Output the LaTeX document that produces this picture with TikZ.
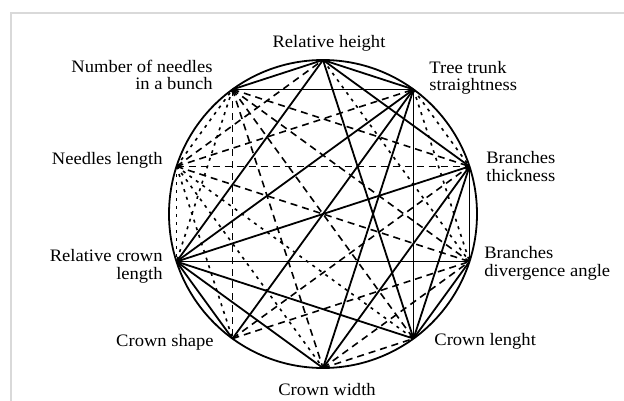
\documentclass[tikz,border=0pt]{standalone}
\usepackage{fontspec}
\setmainfont{Liberation Serif}[FakeStretch=1.06]
\begin{document}
\begin{tikzpicture}[x=1pt, y=1pt, line width=1.8pt,
  strongcor/.style={line width=1.8pt},
  midcor/.style={line width=1.6pt, dash pattern=on 7pt off 5pt},
  weakcor/.style={line width=1.6pt, dash pattern=on 3pt off 5pt},
  trait/.style={inner sep=0pt, font=\fontsize{17.5}{17.5}\selectfont}]
  \useasboundingbox (-323,-186) rectangle (301,214);
  % frame of the scan
  \draw[gray!30, line width=1.5pt] (-312,-200) -- (-312,201) -- (310,201);
  % traits on the circle
  \coordinate (O) at (0,0);
  \foreach \n/\ang in {height/90, trunk/54, thick/18, angle/-18, clen/-54,
                       width/-90, shape/-126, rcl/-162, nlen/162, nnum/126}{
    \coordinate (\n) at (\ang:154);
  }
  \draw[line width=1.8pt] (O) circle (154);
  % weak links
  \foreach \a/\b in {nlen/nnum, nlen/rcl, nlen/shape, nlen/width, nlen/clen,
                     nnum/rcl, trunk/angle, trunk/thick, height/angle}{
    \draw[weakcor] (\a) -- (\b);
  }
  % medium links
  \foreach \a/\b in {nlen/height, nlen/trunk, nlen/thick, nlen/angle,
                     nnum/thick, nnum/angle, nnum/clen, nnum/width, nnum/shape,
                     shape/thick, shape/angle, width/angle, width/clen}{
    \draw[midcor] (\a) -- (\b);
  }
  % strong links
  \foreach \a/\b in {height/nnum, height/trunk, height/thick, height/clen, height/rcl,
                     nnum/trunk, trunk/rcl, trunk/shape, trunk/width, trunk/clen,
                     thick/rcl, thick/width, thick/clen, thick/angle,
                     angle/rcl, angle/clen, clen/rcl, width/rcl, shape/rcl}{
    \draw[strongcor] (\a) -- (\b);
  }
  % labels
  \node[trait, anchor=base] (lheight) at ([xshift=6, yshift=13]height) {Relative height};
  \node[trait, anchor=east, align=right] (lnnum) at ([xshift=-19, yshift=14.5]nnum) {Number of needles\\in a bunch};
  \node[trait, anchor=west, align=left] (ltrunk) at ([xshift=15, yshift=11.5]trunk) {Tree trunk\\straightness};
  \node[trait, anchor=west, align=left] (lthick) at ([xshift=16]thick) {Branches\\thickness};
  \node[trait, anchor=west, align=left] (langle) at ([xshift=14, yshift=-1.5]angle) {Branches\\divergence angle};
  \node[trait, anchor=west] (lclen) at ([xshift=20, yshift=-3]clen) {Crown lenght};
  \node[trait, anchor=north] (lwidth) at ([xshift=4, yshift=-14]width) {Crown width};
  \node[trait, anchor=east] (lshape) at ([xshift=-18, yshift=-4]shape) {Crown shape};
  \node[trait, anchor=east, align=right] (lrcl) at ([xshift=-13, yshift=-4.5]rcl) {Relative crown\\length};
  \node[trait, anchor=east] (lnlen) at ([xshift=-13, yshift=6]nlen) {Needles length};
\end{tikzpicture}
\end{document}
